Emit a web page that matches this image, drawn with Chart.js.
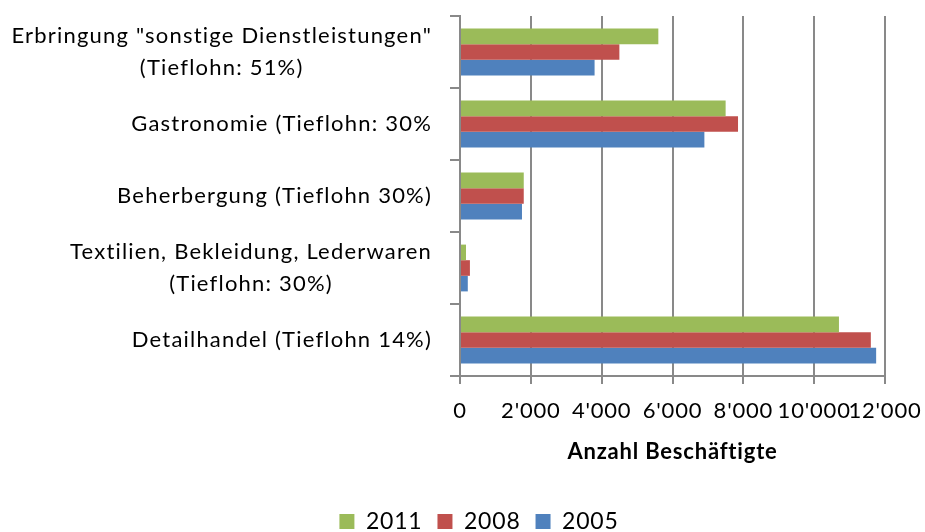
<!DOCTYPE html>
<html>
<head>
<meta charset="utf-8">
<script src="https://cdn.jsdelivr.net/npm/chart.js@4.4.1/dist/chart.umd.min.js"></script>
<style>
  html, body { margin: 0; padding: 0; background: #fff; overflow: hidden; }
  #wrap { position: relative; width: 925px; height: 532px; }
</style>
</head>
<body>
<div id="wrap"><canvas id="c"></canvas></div>
<script>
const categories = [
  ['Erbringung "sonstige Dienstleistungen"', '(Tieflohn: 51%)'],
  'Gastronomie (Tieflohn: 30%',
  'Beherbergung (Tieflohn 30%)',
  ['Textilien, Bekleidung, Lederwaren', '(Tieflohn: 30%)'],
  'Detailhandel (Tieflohn 14%)'
];
const seriesNames = ['2011', '2008', '2005'];
const values2011 = [5600, 7500, 1800, 170, 10700];
const values2008 = [4500, 7850, 1800, 280, 11600];
const values2005 = [3800, 6900, 1750, 220, 11750];
const xTickValues = [0, 2000, 4000, 6000, 8000, 10000, 12000];
const xTitle = 'Anzahl Beschäftigte';

const FONT = 'Lato';
const GRID = '#898989';

function fmt(v) {
  return String(v).replace(/\B(?=(\d{3})+(?!\d))/g, "'");
}

const spacingPlugin = {
  id: 'spacing',
  beforeLayout(chart) { chart.ctx.letterSpacing = '0.8px'; },
  beforeDraw(chart) { chart.ctx.letterSpacing = '0.8px'; }
};

const yLabelPlugin = {
  id: 'yLabels',
  afterDraw(chart) {
    const { ctx, scales: { y }, chartArea } = chart;
    ctx.save();
    ctx.letterSpacing = '1.2px';
    ctx.font = '22px ' + FONT;
    ctx.fillStyle = '#000';
    ctx.textBaseline = 'middle';
    ctx.textAlign = 'center';
    const right = chartArea.left - 28;
    const lh = 32;
    chart.data.labels.forEach((lab, i) => {
      const lines = Array.isArray(lab) ? lab : [lab];
      const w = Math.max(...lines.map(l => ctx.measureText(l).width));
      const cx = right - w / 2;
      const cy = y.getPixelForValue(i);
      lines.forEach((l, j) => ctx.fillText(l, cx, cy + (j - (lines.length - 1) / 2) * lh));
    });
    ctx.restore();
  }
};

new Chart(document.getElementById('c'), {
  type: 'bar',
  data: {
    labels: categories,
    datasets: [
      { label: seriesNames[0], data: values2011, backgroundColor: '#9BBB59' },
      { label: seriesNames[1], data: values2008, backgroundColor: '#C0504D' },
      { label: seriesNames[2], data: values2005, backgroundColor: '#4F81BD' }
    ]
  },
  options: {
    indexAxis: 'y',
    responsive: true,
    maintainAspectRatio: false,
    animation: false,
    categoryPercentage: 0.65,
    barPercentage: 1.0,
    layout: { padding: { left: 73, right: 40, top: 16, bottom: -11 } },
    scales: {
      x: {
        type: 'linear',
        min: 0,
        max: 12000,
        afterBuildTicks(scale) { scale.ticks = xTickValues.map(v => ({ value: v })); },
        afterFit(scale) { scale.height = 119; scale.paddingLeft = 0; scale.paddingRight = 0; },
        grid: { color: GRID, lineWidth: 2, drawTicks: true, tickLength: 8, tickColor: GRID },
        border: { display: true, color: GRID, width: 2 },
        ticks: {
          autoSkip: false, maxRotation: 0, minRotation: 0,
          padding: 14,
          color: '#000',
          font: { family: FONT, size: 22 },
          callback: (v) => fmt(v)
        },
        title: {
          display: true,
          text: xTitle,
          color: '#000',
          font: { family: FONT, size: 22, weight: 'bold' },
          padding: { top: 0, bottom: 30 }
        }
      },
      y: {
        type: 'category',
        afterFit(scale) { scale.width = 387; scale.paddingTop = 0; scale.paddingBottom = 0; },
        grid: { display: true, drawOnChartArea: false, drawTicks: true, tickLength: 10, color: GRID, lineWidth: 2, offset: true },
        border: { display: true, color: GRID, width: 2 },
        ticks: { display: false }
      }
    },
    plugins: {
      legend: {
        position: 'bottom',
        labels: {
          color: '#000',
          font: { family: FONT, size: 23 },
          boxWidth: 15,
          boxHeight: 15,
          padding: 15
        }
      },
      tooltip: { enabled: false }
    }
  },
  plugins: [spacingPlugin, yLabelPlugin]
});
</script>
</body>
</html>
